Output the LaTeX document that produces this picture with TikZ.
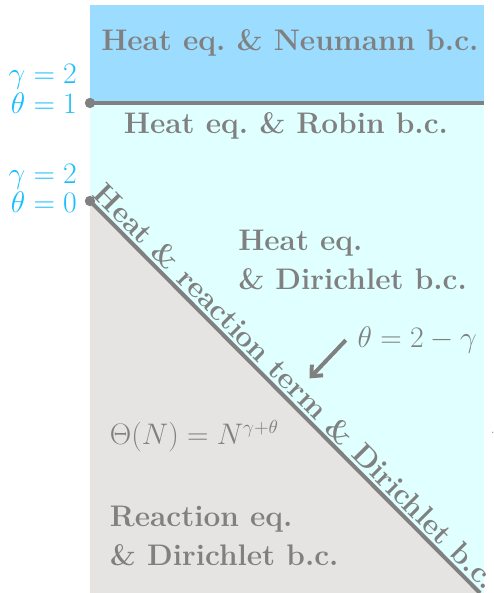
\documentclass[tikz,border=0pt]{standalone}
\usepackage{amsmath}
\usetikzlibrary{arrows.meta}
\definecolor{topblue}{RGB}{155,220,255}
\definecolor{lowcyan}{RGB}{224,255,255}
\definecolor{trigray}{RGB}{229,228,226}
\definecolor{linegray}{RGB}{128,128,128}
\definecolor{labcyan}{RGB}{25,190,255}
\begin{document}
\begin{tikzpicture}[x=2cm,y=2cm,
  region/.style={font=\LARGE\bfseries, text=linegray},
  bound/.style={line width=2.3pt, draw=linegray},
  lab/.style={font=\LARGE, text=labcyan, anchor=east, inner sep=0pt},
  mathlab/.style={font=\LARGE, text=linegray}]
\useasboundingbox (-0.918,0) rectangle (4.122,6.051);
\fill[lowcyan] (0,0) rectangle (4.02,6.0);
\fill[topblue] (0,5) rectangle (4.02,6.0);
\fill[trigray] (0,0) -- (0,4) -- (4,0) -- cycle;
\coordinate (a1) at (0,5);
\coordinate (a2) at (4.02,5);
\coordinate (b1) at (0,4);
\coordinate (b2) at (3.98,0);
\draw[bound] (a1) -- (a2);
\draw[bound] (b1) -- node[region, above, sloped, inner sep=1.5pt, pos=0.5] {Heat \& reaction term \& Dirichlet b.c.} (b2);
\fill[linegray] (a1) circle (3pt);
\fill[linegray] (b1) circle (3pt);
\node[lab] (g1) at (-0.13,5.27) {$\gamma=2$};
\node[lab] (t1) at (-0.13,5.0) {$\theta=1$};
\node[lab] (g0) at (-0.13,4.25) {$\gamma=2$};
\node[lab] (t0) at (-0.13,3.99) {$\theta=0$};
\node[region] (neu) at (2.04,5.61) {Heat eq.\ \& Neumann b.c.};
\node[region] (rob) at (2.0,4.77) {Heat eq.\ \& Robin b.c.};
\node[region, anchor=west, align=left, inner sep=0pt] (dir) at (1.51,3.40) {Heat eq.\\[1pt] \& Dirichlet b.c.};
\node[mathlab] (eqn) at (3.34,2.58) {$\theta=2-\gamma$};
\coordinate (at) at (2.61,2.58);
\coordinate (ah) at (2.24,2.19);
\draw[bound, -{Straight Barb[length=5pt,width=9pt]}] (at) -- (ah);
\node[mathlab, font=\fontsize{16}{19}\selectfont, anchor=west, inner sep=0pt] (theta) at (0.2,1.6) {$\Theta(N)=N^{\gamma+\theta}$};
\node[region, anchor=west, align=left, inner sep=0pt] (rea) at (0.2,0.58) {Reaction eq.\\[1pt] \& Dirichlet b.c.};
\fill[linegray] (4.11,1.64) circle (0.4pt);
\end{tikzpicture}
\end{document}
